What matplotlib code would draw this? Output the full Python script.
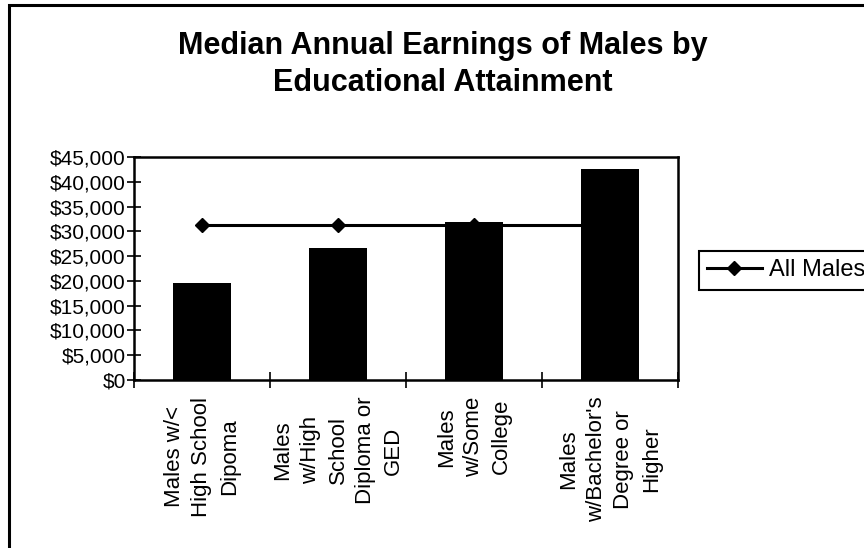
import matplotlib
matplotlib.use("Agg")
import matplotlib.pyplot as plt
from matplotlib.patches import Rectangle
from matplotlib.ticker import FuncFormatter, FixedLocator

plt.rcParams["font.family"] = ["Liberation Sans", "DejaVu Sans"]

# Median annual earnings by education level
categories = [
    "Males w/<\nHigh School\nDipoma",
    "Males\nw/High\nSchool\nDiploma or\nGED",
    "Males\nw/Some\nCollege",
    "Males\nw/Bachelor's\nDegree or\nHigher",
]
earnings = [19500, 26700, 31900, 42600]
all_males = [31200, 31200, 31200, 31200]
y_ticks = list(range(0, 45001, 5000))

fig = plt.figure(figsize=(8.64, 5.48), dpi=100)

# Chart frame around everything
fig.patches.append(Rectangle((9 / 864, -0.05), 1.0, 1.05 - 5 / 548,
                             transform=fig.transFigure, fill=False,
                             edgecolor="black", linewidth=2.2))

ax = fig.add_axes([134 / 864, 1 - 380 / 548, (678 - 134) / 864, (380 - 157) / 548])

x = list(range(len(categories)))
ax.bar(x, earnings, width=0.42, color="black", zorder=3)
ax.plot(x, all_males, color="black", linewidth=2.2, marker="D",
        markersize=7.5, zorder=2, label="All Males")

ax.set_xlim(-0.5, len(categories) - 0.5)
ax.set_ylim(0, 45000)
ax.set_yticks(y_ticks)
ax.yaxis.set_major_formatter(FuncFormatter(lambda v, _: f"${v:,.0f}"))
ax.tick_params(axis="y", direction="inout", length=10, width=1.2,
               labelsize=15, pad=1)

# Labels at category centres, tick marks at category boundaries
ax.set_xticks(x)
ax.set_xticklabels(categories, rotation=90, va="top", ha="center",
                   multialignment="center", fontsize=16, linespacing=1.42)
ax.tick_params(axis="x", which="major", length=0, pad=12)
ax.xaxis.set_minor_locator(FixedLocator([i - 0.5 for i in range(len(categories) + 1)]))
ax.tick_params(axis="x", which="minor", direction="inout", length=11, width=1.2)

for spine in ax.spines.values():
    spine.set_linewidth(1.8)
    spine.set_color("black")

fig.text(443 / 864, 1 - 31 / 548,
         "Median Annual Earnings of Males by\nEducational Attainment",
         ha="center", va="top", fontsize=22, fontweight="bold",
         linespacing=1.3)

leg = fig.legend(loc="upper left", bbox_to_anchor=(699 / 864, 1 - 251 / 548),
                 fontsize=17, frameon=True, fancybox=False, framealpha=1,
                 edgecolor="black", handlelength=2.3, handletextpad=0.3,
                 borderpad=0.35, borderaxespad=0)
leg.get_frame().set_linewidth(1.5)

fig.savefig("out.png", dpi=100)
